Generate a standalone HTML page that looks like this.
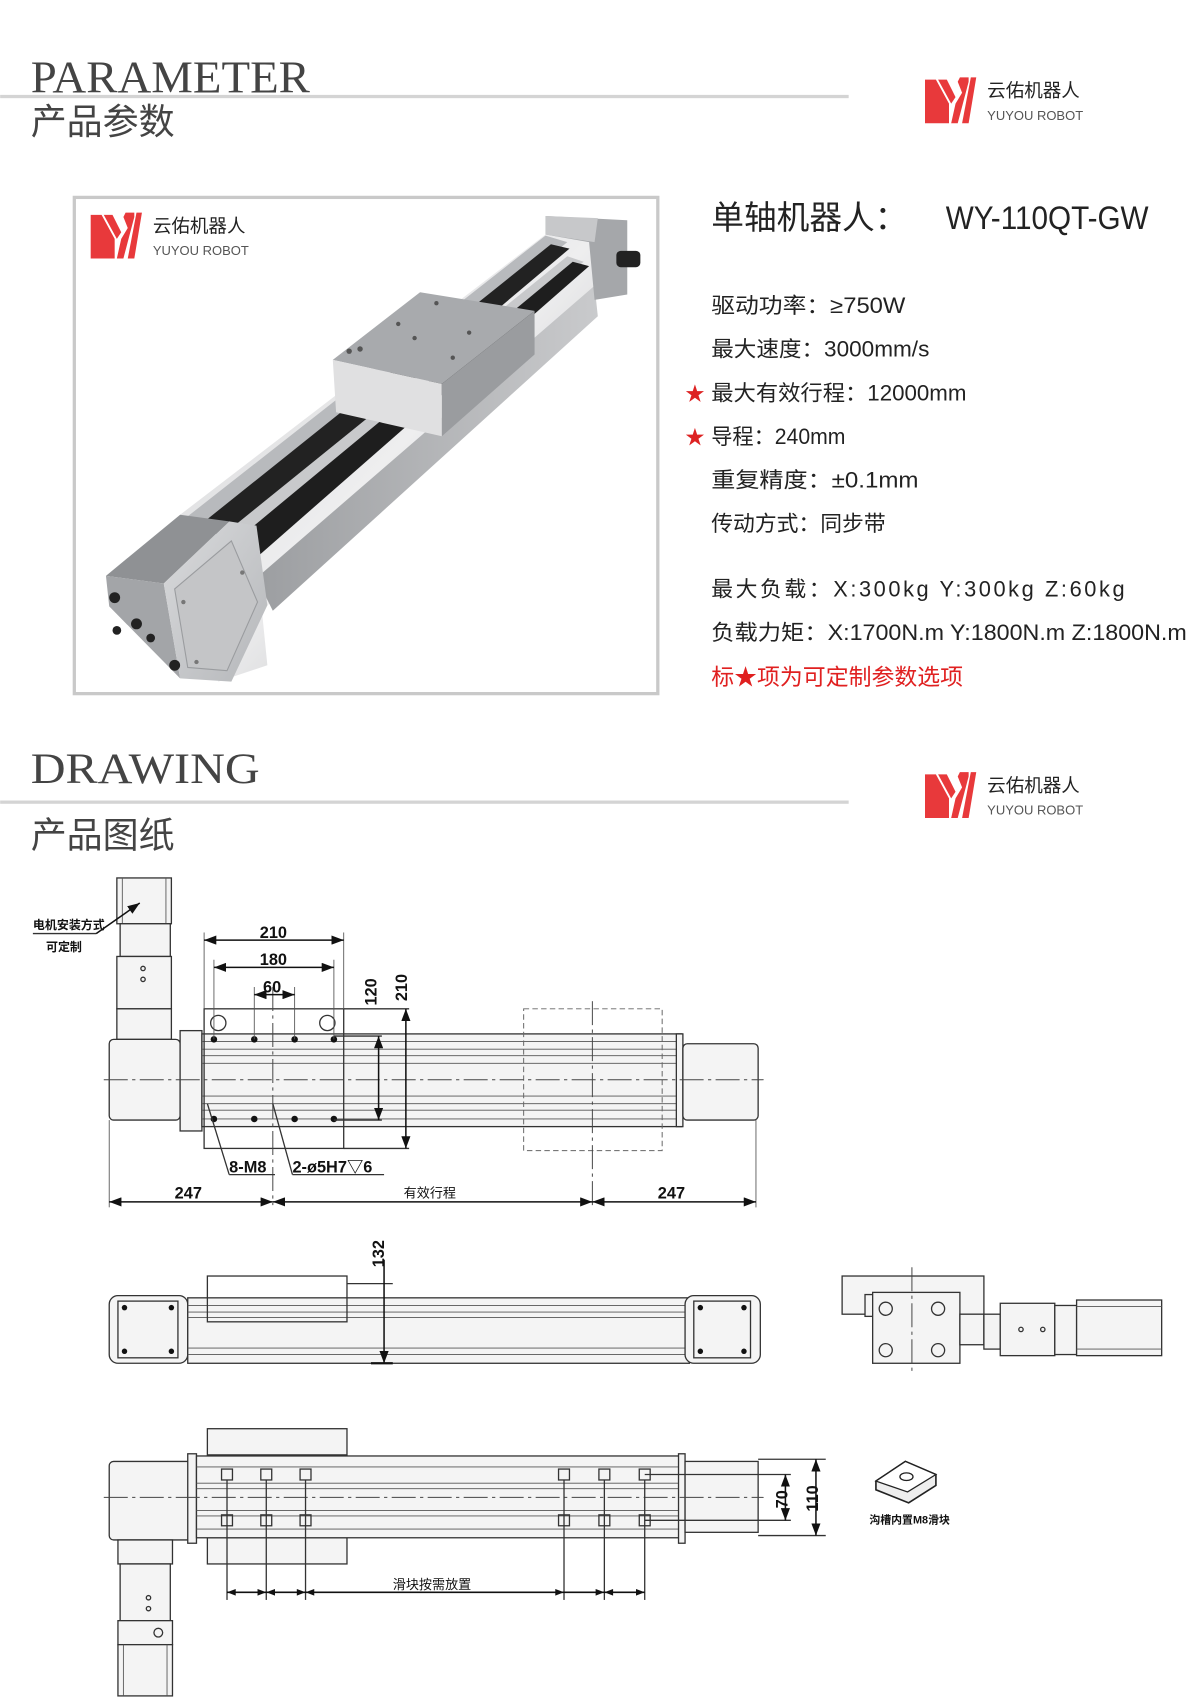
<!DOCTYPE html>
<html><head><meta charset="utf-8"><style>
html,body{margin:0;padding:0;background:#fff;}
svg{display:block;}
text{font-family:"Liberation Sans","Noto Sans CJK SC",sans-serif;}
.ln{stroke:#333;stroke-width:1.2;fill:none}
.lf{stroke:#333;stroke-width:1.2;fill:#f4f4f4}
.thin{stroke:#555;stroke-width:0.8;fill:none}
.cl{stroke:#444;stroke-width:0.9;fill:none;stroke-dasharray:22 4 3 4}
.dim{stroke:#111;stroke-width:1.4;fill:none}
.dt{font-size:15px;font-weight:bold;fill:#111}
</style></head><body>
<svg width="1200" height="1697" viewBox="0 0 1100 1556" xmlns="http://www.w3.org/2000/svg">
<defs>
<g id="logo">
<polygon points="0,2 10,2 22,24 22,42 0,42" fill="#e8393b"/>
<polygon points="12,2 20,2 28,18 24,24" fill="#e8393b"/>
<polygon points="32,0 40,0 40,4 30,42 24,42 28,24 34,14 30,4" fill="#e8393b"/>
<polygon points="42,0 47,0 40,42 34,42" fill="#e8393b"/>
<text x="57" y="18" font-size="17" fill="#222">云佑机器人</text>
<text x="57" y="39" font-size="12" fill="#555" textLength="88" lengthAdjust="spacingAndGlyphs">YUYOU ROBOT</text>
</g>
<marker id="ar" markerWidth="8" markerHeight="6" refX="8" refY="3" orient="auto-start-reverse"><path d="M0,0 L8,3 L0,6z" fill="#111"/></marker>
<linearGradient id="met" x1="0" y1="0" x2="1" y2="1"><stop offset="0" stop-color="#cfd0d2"/><stop offset="0.5" stop-color="#eeeeef"/><stop offset="1" stop-color="#a9abae"/></linearGradient>
<linearGradient id="met2" x1="0" y1="0" x2="1" y2="0"><stop offset="0" stop-color="#9c9ea1"/><stop offset="1" stop-color="#c9cacc"/></linearGradient>
<linearGradient id="plate" x1="0" y1="0" x2="1" y2="1"><stop offset="0" stop-color="#d9dadc"/><stop offset="1" stop-color="#b5b7ba"/></linearGradient>
</defs>

<text x="28" y="85" font-size="42" fill="#444" style="font-family:'Liberation Serif',serif" textLength="256" lengthAdjust="spacingAndGlyphs">PARAMETER</text>
<rect x="0" y="87" width="778" height="3" fill="#d4d4d4"/>
<text x="28" y="123" font-size="33" fill="#444">产品参数</text>
<use href="#logo" x="848" y="71"/>

<rect x="68" y="181" width="535" height="455" fill="#fff" stroke="#c9c9c9" stroke-width="3"/>
<use href="#logo" x="83" y="195"/>
<polygon points="165,472 500,215 545,222 548,262 240,560 245,610 200,625" fill="url(#met)"/>
<polygon points="170,475 500,216 520,222 195,490" fill="#b8babd"/>
<polygon points="185,480 505,224 522,228 205,495" fill="#222"/>
<polygon points="195,498 520,235 535,240 215,512" fill="#c8c9cb"/>
<polygon points="205,505 525,240 540,244 225,520" fill="#1e1e1e"/>
<polygon points="235,530 545,262 548,290 250,560" fill="url(#met2)"/>
<polygon points="500,198 575,202 575,270 545,275 540,222 500,215" fill="#a5a7aa"/>
<polygon points="500,198 548,200 545,222 500,215" fill="#c7c8ca"/>
<rect x="565" y="230" width="22" height="15" rx="4" fill="#222"/>
<polygon points="305,330 385,268 490,285 405,352" fill="#a8aaad"/>
<polygon points="305,330 405,352 405,400 308,378" fill="#e0e0e1"/>
<polygon points="405,352 490,285 490,325 405,400" fill="#9a9c9f"/>
<g fill="#555"><circle cx="320" cy="322" r="2.5"/><circle cx="330" cy="320" r="2.5"/><circle cx="365" cy="297" r="2"/><circle cx="380" cy="310" r="2"/><circle cx="415" cy="328" r="2"/><circle cx="430" cy="305" r="2"/><circle cx="400" cy="278" r="2"/></g>
<!-- near end cap -->
<polygon points="97,528 165,472 210,478 150,535" fill="#8f9194"/>
<polygon points="97,528 150,535 165,622 100,556" fill="#a3a5a8"/>
<polygon points="150,535 210,478 235,482 245,555 212,625 165,622" fill="url(#plate)"/>
<polygon points="160,540 212,496 236,552 208,615 172,612" fill="#c4c5c7" stroke="#9a9c9f" stroke-width="1"/>
<g fill="#222"><circle cx="105" cy="548" r="5"/><circle cx="125" cy="572" r="5"/><circle cx="107" cy="578" r="4"/><circle cx="160" cy="610" r="5"/><circle cx="138" cy="585" r="4"/></g>
<g fill="#777"><circle cx="222" cy="525" r="2"/><circle cx="180" cy="607" r="2"/><circle cx="168" cy="552" r="2"/></g>

<text x="652" y="210" font-size="30" fill="#222">单轴机器人：</text>
<text x="867" y="210" font-size="30" fill="#222" textLength="186" lengthAdjust="spacingAndGlyphs">WY-110QT-GW</text>
<g font-size="20" fill="#222">
<text x="652" y="287" textLength="178" lengthAdjust="spacingAndGlyphs">驱动功率：≥750W</text>
<text x="652" y="327" textLength="200" lengthAdjust="spacingAndGlyphs">最大速度：3000mm/s</text>
<text x="652" y="367" textLength="234" lengthAdjust="spacingAndGlyphs">最大有效行程：12000mm</text>
<text x="652" y="407" textLength="123" lengthAdjust="spacingAndGlyphs">导程：240mm</text>
<text x="652" y="447" textLength="190" lengthAdjust="spacingAndGlyphs">重复精度：±0.1mm</text>
<text x="652" y="487">传动方式：同步带</text>
<text x="652" y="547" textLength="379" lengthAdjust="spacing">最大负载：X:300kg   Y:300kg   Z:60kg</text>
<text x="652" y="587" textLength="436" lengthAdjust="spacingAndGlyphs">负载力矩：X:1700N.m Y:1800N.m Z:1800N.m</text>
</g>
<text x="628" y="367" font-size="18" fill="#d22">★</text>
<text x="628" y="407" font-size="18" fill="#d22">★</text>
<text x="652" y="628" font-size="21" fill="#e02020">标★项为可定制参数选项</text>

<text x="28" y="718" font-size="40" fill="#444" style="font-family:'Liberation Serif',serif" textLength="210" lengthAdjust="spacingAndGlyphs">DRAWING</text>
<rect x="0" y="734" width="778" height="3" fill="#d4d4d4"/>
<text x="28" y="777" font-size="33" fill="#444">产品图纸</text>
<use href="#logo" x="848" y="708"/>

<!-- TOP VIEW -->
<rect x="107" y="805" width="50" height="42" class="lf"/>
<line x1="112" y1="805" x2="112" y2="847" class="thin"/><line x1="152" y1="805" x2="152" y2="847" class="thin"/>
<rect x="110" y="847" width="46" height="30" class="lf"/>
<rect x="107" y="877" width="50" height="48" class="lf"/>
<circle cx="131" cy="888" r="2" class="ln"/><circle cx="131" cy="898" r="2" class="ln"/>
<rect x="107" y="925" width="50" height="28" class="lf"/>
<text x="30" y="852" font-size="11" font-weight="bold" fill="#111">电机安装方式</text>
<line x1="30" y1="856" x2="88" y2="856" class="ln"/>
<text x="42" y="872" font-size="11" font-weight="bold" fill="#111">可定制</text>
<line x1="88" y1="856" x2="128" y2="828" class="dim" marker-end="url(#ar)"/>
<rect x="100" y="953" width="65" height="74" rx="4" class="lf"/>
<rect x="165" y="945" width="20" height="92" class="lf"/>
<rect x="185" y="948" width="440" height="85" class="lf"/>
<g class="thin"><line x1="185" y1="955" x2="625" y2="955"/><line x1="185" y1="962" x2="625" y2="962"/><line x1="185" y1="968" x2="625" y2="968"/><line x1="185" y1="975" x2="625" y2="975"/><line x1="185" y1="1005" x2="625" y2="1005"/><line x1="185" y1="1012" x2="625" y2="1012"/><line x1="185" y1="1018" x2="625" y2="1018"/><line x1="185" y1="1026" x2="625" y2="1026"/></g>
<rect x="620" y="948" width="6" height="85" class="lf"/>
<rect x="626" y="957" width="69" height="70" rx="4" class="lf"/>
<rect x="187" y="925" width="128" height="128" fill="#fff" class="ln"/>
<line x1="315" y1="925" x2="375" y2="925" class="ln"/><line x1="315" y1="1053" x2="375" y2="1053" class="ln"/>
<circle cx="200" cy="938" r="7" class="ln"/><circle cx="300" cy="938" r="7" class="ln"/>
<g fill="#111"><circle cx="196" cy="953" r="3"/><circle cx="233" cy="953" r="3"/><circle cx="270" cy="953" r="3"/><circle cx="306" cy="953" r="3"/><circle cx="196" cy="1026" r="3"/><circle cx="233" cy="1026" r="3"/><circle cx="270" cy="1026" r="3"/><circle cx="306" cy="1026" r="3"/></g>
<line x1="306" y1="950" x2="350" y2="950" class="ln"/><line x1="306" y1="1027" x2="350" y2="1027" class="ln"/>
<rect x="480" y="925" width="127" height="130" fill="none" stroke="#666" stroke-dasharray="5 3" stroke-width="0.9"/>
<line x1="95" y1="990" x2="700" y2="990" class="cl"/>
<line x1="250" y1="905" x2="250" y2="1105" class="cl"/>
<line x1="543" y1="918" x2="543" y2="1105" class="cl"/>
<line x1="100" y1="1027" x2="100" y2="1107" class="thin"/><line x1="693" y1="1027" x2="693" y2="1107" class="thin"/>
<line x1="187" y1="855" x2="187" y2="925" class="thin"/><line x1="315" y1="855" x2="315" y2="925" class="thin"/>
<line x1="187" y1="862" x2="315" y2="862" class="dim" marker-start="url(#ar)" marker-end="url(#ar)"/><text x="238" y="860" class="dt">210</text>
<line x1="196" y1="880" x2="196" y2="953" class="thin"/><line x1="306" y1="880" x2="306" y2="953" class="thin"/>
<line x1="196" y1="887" x2="306" y2="887" class="dim" marker-start="url(#ar)" marker-end="url(#ar)"/><text x="238" y="885" class="dt">180</text>
<line x1="233" y1="905" x2="233" y2="953" class="thin"/><line x1="270" y1="905" x2="270" y2="953" class="thin"/>
<line x1="233" y1="912" x2="270" y2="912" class="dim" marker-start="url(#ar)" marker-end="url(#ar)"/><text x="241" y="910" class="dt">60</text>
<line x1="347" y1="950" x2="347" y2="1027" class="dim" marker-start="url(#ar)" marker-end="url(#ar)"/>
<text transform="translate(345,922) rotate(-90)" class="dt">120</text>
<line x1="372" y1="925" x2="372" y2="1053" class="dim" marker-start="url(#ar)" marker-end="url(#ar)"/>
<text transform="translate(373,918) rotate(-90)" class="dt">210</text>
<line x1="210" y1="1077" x2="190" y2="1012" class="ln"/><line x1="210" y1="1077" x2="252" y2="1077" class="ln"/>
<text x="210" y="1075" class="dt">8-M8</text>
<line x1="268" y1="1077" x2="250" y2="1012" class="ln"/><line x1="268" y1="1077" x2="352" y2="1077" class="ln"/>
<text x="268" y="1075" class="dt">2-ø5H7▽6</text>
<line x1="100" y1="1102" x2="250" y2="1102" class="dim" marker-start="url(#ar)" marker-end="url(#ar)"/><text x="160" y="1099" class="dt">247</text>
<line x1="250" y1="1102" x2="543" y2="1102" class="dim" marker-start="url(#ar)" marker-end="url(#ar)"/><text x="370" y="1098" font-size="12" fill="#111">有效行程</text>
<line x1="543" y1="1102" x2="693" y2="1102" class="dim" marker-start="url(#ar)" marker-end="url(#ar)"/><text x="603" y="1099" class="dt">247</text>

<!-- SIDE VIEW -->
<rect x="100" y="1188" width="72" height="62" rx="8" class="lf"/>
<rect x="108" y="1193" width="55" height="52" class="ln"/>
<rect x="172" y="1190" width="460" height="60" class="lf"/>
<g class="thin"><line x1="172" y1="1197" x2="632" y2="1197"/><line x1="172" y1="1203" x2="632" y2="1203"/><line x1="172" y1="1208" x2="632" y2="1208"/><line x1="172" y1="1236" x2="632" y2="1236"/><line x1="172" y1="1242" x2="632" y2="1242"/></g>
<rect x="190" y="1170" width="128" height="42" fill="#fff" class="ln"/>
<line x1="318" y1="1177" x2="360" y2="1177" class="ln"/>
<rect x="628" y="1188" width="69" height="62" rx="8" class="lf"/>
<rect x="636" y="1193" width="52" height="52" class="ln"/>
<g fill="#111"><circle cx="114" cy="1199" r="2.5"/><circle cx="157" cy="1199" r="2.5"/><circle cx="114" cy="1239" r="2.5"/><circle cx="157" cy="1239" r="2.5"/><circle cx="642" cy="1199" r="2.5"/><circle cx="682" cy="1199" r="2.5"/><circle cx="642" cy="1239" r="2.5"/><circle cx="682" cy="1239" r="2.5"/></g>
<line x1="352" y1="1155" x2="352" y2="1250" class="dim" marker-end="url(#ar)"/>
<line x1="340" y1="1250" x2="360" y2="1250" stroke="#111" stroke-width="2"/>
<text transform="translate(352,1162) rotate(-90)" class="dt">132</text>
<rect x="772" y="1170" width="130" height="35" class="lf"/>
<rect x="793" y="1187" width="85" height="20" class="lf"/>
<rect x="800" y="1185" width="80" height="65" class="lf"/>
<circle cx="812" cy="1200" r="6" class="ln"/><circle cx="860" cy="1200" r="6" class="ln"/><circle cx="812" cy="1238" r="6" class="ln"/><circle cx="860" cy="1238" r="6" class="ln"/>
<line x1="836" y1="1162" x2="836" y2="1258" class="cl"/>
<rect x="880" y="1205" width="22" height="28" class="lf"/>
<rect x="902" y="1205" width="15" height="32" class="lf"/>
<rect x="917" y="1195" width="50" height="48" class="lf"/>
<circle cx="936" cy="1219" r="2" class="ln"/><circle cx="956" cy="1219" r="2" class="ln"/>
<rect x="967" y="1197" width="20" height="45" class="lf"/>
<rect x="987" y="1192" width="78" height="51" class="lf"/>
<line x1="987" y1="1198" x2="1065" y2="1198" class="thin"/><line x1="987" y1="1237" x2="1065" y2="1237" class="thin"/>

<!-- BOTTOM VIEW -->
<rect x="190" y="1310" width="128" height="24" class="lf"/>
<rect x="190" y="1410" width="128" height="24" class="lf"/>
<rect x="100" y="1340" width="78" height="72" rx="4" class="lf"/>
<rect x="172" y="1333" width="8" height="82" class="lf"/>
<rect x="180" y="1335" width="445" height="75" class="lf"/>
<g class="thin"><line x1="180" y1="1345" x2="625" y2="1345"/><line x1="180" y1="1360" x2="625" y2="1360"/><line x1="180" y1="1365" x2="625" y2="1365"/><line x1="180" y1="1385" x2="625" y2="1385"/><line x1="180" y1="1390" x2="625" y2="1390"/><line x1="180" y1="1402" x2="625" y2="1402"/></g>
<rect x="622" y="1333" width="6" height="82" class="lf"/>
<rect x="628" y="1340" width="67" height="65" class="lf"/>
<line x1="95" y1="1373" x2="700" y2="1373" class="cl"/>
<g class="ln">
<rect x="203" y="1347" width="10" height="10"/><rect x="239" y="1347" width="10" height="10"/><rect x="275" y="1347" width="10" height="10"/><rect x="512" y="1347" width="10" height="10"/><rect x="549" y="1347" width="10" height="10"/><rect x="586" y="1347" width="10" height="10"/>
<rect x="203" y="1389" width="10" height="10"/><rect x="239" y="1389" width="10" height="10"/><rect x="275" y="1389" width="10" height="10"/><rect x="512" y="1389" width="10" height="10"/><rect x="549" y="1389" width="10" height="10"/><rect x="586" y="1389" width="10" height="10"/>
</g>
<line x1="591" y1="1352" x2="725" y2="1352" class="ln"/><line x1="591" y1="1394" x2="725" y2="1394" class="ln"/>
<line x1="695" y1="1338" x2="757" y2="1338" class="ln"/><line x1="695" y1="1408" x2="757" y2="1408" class="ln"/>
<line x1="720" y1="1352" x2="720" y2="1394" class="dim" marker-start="url(#ar)" marker-end="url(#ar)"/>
<text transform="translate(722,1383) rotate(-90)" class="dt">70</text>
<line x1="748" y1="1338" x2="748" y2="1408" class="dim" marker-start="url(#ar)" marker-end="url(#ar)"/>
<text transform="translate(750,1386) rotate(-90)" class="dt">110</text>
<g class="ln"><line x1="208" y1="1357" x2="208" y2="1467"/><line x1="244" y1="1357" x2="244" y2="1467"/><line x1="280" y1="1357" x2="280" y2="1467"/><line x1="517" y1="1357" x2="517" y2="1467"/><line x1="554" y1="1357" x2="554" y2="1467"/><line x1="591" y1="1357" x2="591" y2="1467"/></g>
<line x1="208" y1="1460" x2="591" y2="1460" class="dim"/>
<g fill="#111"><path d="M208,1460 l8,-3 v6z"/><path d="M244,1460 l-8,-3 v6z"/><path d="M244,1460 l8,-3 v6z"/><path d="M280,1460 l-8,-3 v6z"/><path d="M280,1460 l8,-3 v6z"/><path d="M517,1460 l-8,-3 v6z"/><path d="M554,1460 l-8,-3 v6z"/><path d="M554,1460 l8,-3 v6z"/><path d="M591,1460 l-8,-3 v6z"/></g>
<text x="360" y="1457" font-size="12" fill="#111">滑块按需放置</text>
<rect x="108" y="1412" width="50" height="22" class="lf"/>
<rect x="110" y="1434" width="46" height="52" class="lf"/>
<circle cx="136" cy="1465" r="2" class="ln"/><circle cx="136" cy="1475" r="2" class="ln"/>
<rect x="108" y="1486" width="50" height="22" class="lf"/>
<circle cx="145" cy="1497" r="4" class="ln"/>
<rect x="108" y="1508" width="50" height="47" class="lf"/>
<line x1="113" y1="1508" x2="113" y2="1555" class="thin"/><line x1="153" y1="1508" x2="153" y2="1555" class="thin"/>
<polygon points="803,1358 830,1340 858,1352 858,1362 833,1378 803,1366" fill="#eee" stroke="#222" stroke-width="1.5"/>
<polygon points="803,1358 830,1340 858,1352 832,1368" fill="#fff" stroke="#222" stroke-width="1.2"/>
<ellipse cx="831" cy="1354" rx="6" ry="3.5" fill="none" stroke="#222" stroke-width="1.2"/>
<text x="797" y="1397" font-size="10" font-weight="bold" fill="#111">沟槽内置M8滑块</text>
</svg>
</body></html>
